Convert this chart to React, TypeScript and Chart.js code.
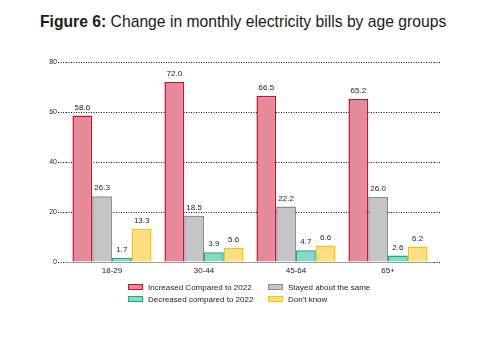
import React, { useEffect, useRef } from "react";
import { Chart, registerables } from "chart.js";

Chart.register(...registerables);

const categories = ["18-29", "30-44", "45-64", "65+"];
const increased = [58.6, 72.0, 66.5, 65.2];
const stayed = [26.3, 18.5, 22.2, 26.0];
const decreased = [1.7, 3.9, 4.7, 2.6];
const dontKnow = [13.3, 5.6, 6.6, 6.2];
const seriesNames = [
  "Increased Compared to 2022",
  "Stayed about the same",
  "Decreased compared to 2022",
  "Don't know",
];
const yTicks = [0, 20, 40, 60, 80];

const fills = ["#E48A99", "#C4C5C7", "#86D9C7", "#FDDF82"];
const borders = ["#C8102E", "#8C8C8C", "#17AD85", "#F5C400"];

const FONT = "'Liberation Sans', Arial, sans-serif";

const valueLabels = {
  id: "valueLabels",
  afterDatasetsDraw(chart: any) {
    const ctx = chart.ctx;
    ctx.save();
    ctx.font = `8px ${FONT}`;
    ctx.fillStyle = "#222";
    ctx.textAlign = "center";
    ctx.textBaseline = "bottom";
    chart.data.datasets.forEach((ds: any, i: number) => {
      const meta = chart.getDatasetMeta(i);
      meta.data.forEach((bar: any, j: number) => {
        ctx.fillText(Number(ds.data[j]).toFixed(1), bar.x, bar.y - 4);
      });
    });
    ctx.restore();
  },
};

// extend the dotted gridlines a little beyond the right edge of the plot
const gridExtend = {
  id: "gridExtend",
  beforeDatasetsDraw(chart: any) {
    const ctx = chart.ctx;
    const y = chart.scales.y;
    const right = chart.chartArea.right;
    ctx.save();
    ctx.strokeStyle = "#111";
    ctx.lineWidth = 1;
    ctx.setLineDash([1, 1.5]);
    y.ticks.forEach((t: any) => {
      const py = Math.round(y.getPixelForValue(t.value)) + 0.5;
      ctx.beginPath();
      ctx.moveTo(right, py);
      ctx.lineTo(right + 6, py);
      ctx.stroke();
    });
    ctx.restore();
  },
};

export default function App() {
  const ref = useRef<HTMLCanvasElement>(null);
  useEffect(() => {
    const data = [increased, stayed, decreased, dontKnow];
    const chart = new Chart(ref.current!, {
      type: "bar",
      data: {
        labels: categories,
        datasets: data.map((d, i) => ({
          label: seriesNames[i],
          data: d,
          backgroundColor: fills[i],
          borderColor: borders[i],
          borderWidth: 1.5,
          categoryPercentage: 0.86,
          barPercentage: 1,
        })),
      },
      options: {
        animation: false,
        responsive: false,
        maintainAspectRatio: false,
        layout: { padding: { left: 46, right: 60, top: 62, bottom: 74 } },
        plugins: {
          legend: { display: false },
          title: { display: false },
          tooltip: { enabled: false },
        },
        scales: {
          x: {
            afterFit: (s: any) => {
              s.height = 20;
            },
            grid: { display: false, drawTicks: false },
            border: { display: true, color: "#9a9a9a", width: 1 },
            ticks: {
              color: "#222",
              font: { family: FONT, size: 8 },
              padding: 4,
            },
          },
          y: {
            min: 0,
            max: 80,
            afterFit: (s: any) => {
              s.width = 20;
            },
            afterBuildTicks: (s: any) => {
              s.ticks = yTicks.map((v) => ({ value: v }));
            },
            border: { display: false, dash: [1, 1.5] },
            grid: {
              color: "#111",
              lineWidth: 1,
              tickLength: 8,
              tickBorderDash: [1, 1.5],
              drawTicks: true,
            },
            ticks: {
              color: "#222",
              font: { family: FONT, size: 7 },
              padding: 1,
            },
          },
        },
      },
      plugins: [gridExtend, valueLabels],
    });
    return () => chart.destroy();
  }, []);

  const legendItem = (i: number) => (
    <div style={{ display: "flex", alignItems: "center", height: 12 }}>
      <span
        style={{
          display: "inline-block",
          width: 13,
          height: 4,
          background: fills[i],
          border: `1px solid ${borders[i]}`,
          marginRight: 5,
        }}
      />
      <span>{seriesNames[i]}</span>
    </div>
  );

  return (
    <div
      style={{
        position: "fixed",
        left: 0,
        top: 0,
        width: 494,
        height: 356,
        background: "#fff",
        fontFamily: FONT,
      }}
    >
      <div
        style={{
          position: "absolute",
          left: 40,
          top: 13,
          fontSize: 15.7,
          color: "#1a1a1a",
          whiteSpace: "nowrap",
        }}
      >
        <b>Figure 6:</b> Change in monthly electricity bills by age groups
      </div>
      <canvas ref={ref} width={494} height={356} style={{ position: "absolute", left: 0, top: 0 }} />
      <div style={{ position: "absolute", left: 128, top: 281, fontSize: 8, color: "#222" }}>
        {legendItem(0)}
        {legendItem(2)}
      </div>
      <div style={{ position: "absolute", left: 268, top: 281, fontSize: 8, color: "#222" }}>
        {legendItem(1)}
        {legendItem(3)}
      </div>
    </div>
  );
}
